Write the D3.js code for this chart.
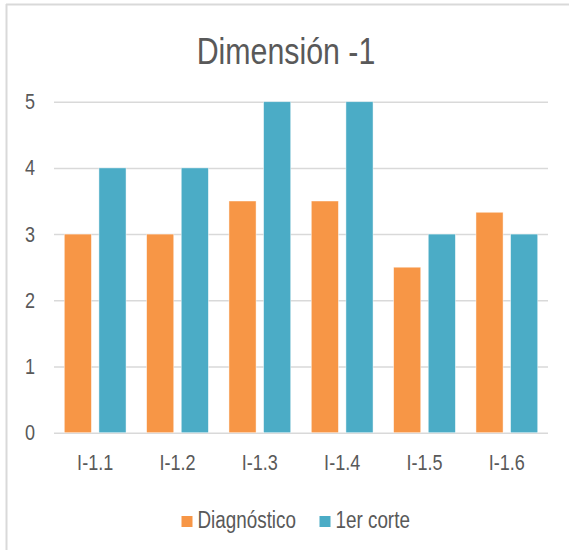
<!DOCTYPE html>
<html>
<head>
<meta charset="utf-8">
<script src="https://cdn.jsdelivr.net/npm/d3@7"></script>
<style>
  html, body { margin: 0; padding: 0; background: #fff; }
  svg { display: block; }
  text { font-family: "Liberation Sans", Arial, sans-serif; fill: #595959; }
</style>
</head>
<body>
<svg id="chart" width="569" height="550"></svg>
<script>
// Indicator categories and the two survey rounds
const categories = ["I-1.1", "I-1.2", "I-1.3", "I-1.4", "I-1.5", "I-1.6"];
const seriesNames = ["Diagnóstico", "1er corte"];
const diagnostico = [3, 3, 3.5, 3.5, 2.5, 3.33];
const primerCorte = [4, 4, 5, 5, 3, 3];
const yTicks = [0, 1, 2, 3, 4, 5];
const colors = ["#F79646", "#4BACC6"];

const svg = d3.select("#chart");
const W = 569, H = 550;
const NARROW = 0.82;

// Condense text horizontally around its own x anchor (narrow typeface look)
function narrow(sel) {
  sel.each(function () {
    const t = d3.select(this);
    const ax = +(t.attr("x") || 0);
    t.attr("transform", `translate(${ax},0) scale(${NARROW},1) translate(${-ax},0)`);
  });
  return sel;
}

// Chart frame (left and top edges)
svg.append("line").attr("x1", 6.5).attr("x2", 6.5).attr("y1", 4).attr("y2", H)
  .attr("stroke", "#d9d9d9").attr("stroke-width", 2);
svg.append("line").attr("x1", 6).attr("x2", W).attr("y1", 4.5).attr("y2", 4.5)
  .attr("stroke", "#d9d9d9").attr("stroke-width", 2);

// Title
svg.append("text")
  .attr("x", 286).attr("y", 64)
  .attr("text-anchor", "middle")
  .style("font-size", "37px")
  .text("Dimensión -1")
  .call(narrow);

const plot = { left: 54, right: 548, top: 101.7, bottom: 432.7 };

const x = d3.scaleBand().domain(categories)
  .range([plot.left, plot.right]).paddingInner(0.25).paddingOuter(0.125);
const xInner = d3.scaleBand().domain(seriesNames)
  .range([0, x.bandwidth()]).paddingInner(0.217);
const y = d3.scaleLinear().domain([0, 5]).range([plot.bottom, plot.top]);

// Horizontal gridlines and y labels
const yAxis = d3.axisLeft(y).tickValues(yTicks).tickFormat(d3.format("d"))
  .tickSize(-(plot.right - plot.left)).tickPadding(19);
const gy = svg.append("g").attr("transform", `translate(${plot.left},0)`).call(yAxis);
gy.select(".domain").remove();
gy.selectAll(".tick line").attr("stroke", "#d9d9d9").attr("stroke-width", 1.5);
gy.selectAll(".tick text")
  .attr("fill", "#595959")
  .style("font-size", "22px")
  .style("font-family", "'Liberation Sans', Arial, sans-serif")
  .call(narrow);

// Bars
const rows = categories.map((c, i) => ({ cat: c, values: [diagnostico[i], primerCorte[i]] }));
const groups = svg.append("g").selectAll("g").data(rows).join("g")
  .attr("transform", d => `translate(${x(d.cat)},0)`);
groups.selectAll("rect")
  .data(d => d.values.map((v, k) => ({ name: seriesNames[k], value: v, k })))
  .join("rect")
  .attr("x", d => xInner(d.name))
  .attr("width", xInner.bandwidth())
  .attr("y", d => y(d.value))
  .attr("height", d => y(0) - y(d.value))
  .attr("fill", d => colors[d.k])
  .attr("stroke", "#ffffff")
  .attr("stroke-opacity", 0.6)
  .attr("stroke-width", 0.75);

// Category labels
const xAxis = d3.axisBottom(x).tickSize(0).tickPadding(22);
const gx = svg.append("g").attr("transform", `translate(0,${plot.bottom})`).call(xAxis);
gx.select(".domain").remove();
gx.selectAll(".tick text")
  .attr("fill", "#595959")
  .style("font-size", "22px")
  .style("font-family", "'Liberation Sans', Arial, sans-serif")
  .call(narrow);

// Legend
const legendItems = [
  { name: seriesNames[0], color: colors[0], x: 181.5 },
  { name: seriesNames[1], color: colors[1], x: 319.5 }
];
const lg = svg.append("g").selectAll("g").data(legendItems).join("g")
  .attr("transform", d => `translate(${d.x},0)`);
lg.append("rect").attr("x", 0).attr("y", 516).attr("width", 11).attr("height", 11)
  .attr("fill", d => d.color);
lg.append("text").attr("x", 16).attr("y", 528.5)
  .style("font-size", "23px")
  .text(d => d.name)
  .call(narrow);
</script>
</body>
</html>
